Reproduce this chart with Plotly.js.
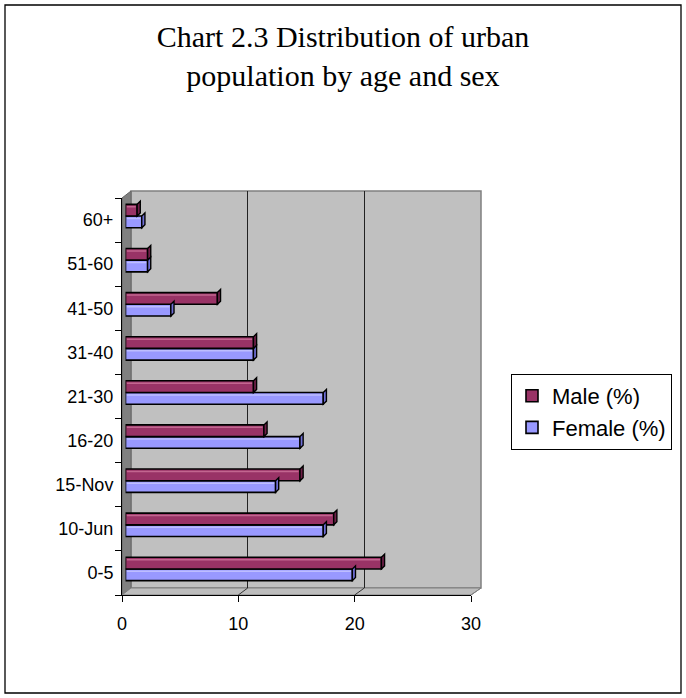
<!DOCTYPE html>
<html>
<head>
<meta charset="utf-8">
<script src="https://cdn.plot.ly/plotly-3.0.1.min.js"></script>
<style>html,body{margin:0;padding:0;background:#fff;}#chart{width:686px;height:698px;}</style>
</head>
<body>
<div id="chart"></div>
<script>
// ---- data ----
const categories = ['0-5', '10-Jun', '15-Nov', '16-20', '21-30', '31-40', '41-50', '51-60', '60+'];
const maleVals   = [22.0, 17.9, 15.0, 11.9, 11.0, 11.0, 7.9, 1.9, 1.0];
const femaleVals = [19.5, 17.0, 12.9, 15.0, 17.0, 11.0, 3.9, 1.9, 1.4];
const seriesNames = ['Male (%)', 'Female (%)'];
const xTicks = [0, 10, 20, 30];
const titleText = 'Chart 2.3 Distribution of urban<br>population by age and sex';

// ---- geometry (pixels) ----
const W = 686, H = 698;
const L = 122, R = 481, T = 191, B = 595;
const fx = px => (px - L) / (R - L);
const fy = py => (B - py) / (B - T);
const frontX1 = 471, frontTop = 198;
const backX0 = 131, backBottom = 588;
const barShiftX = 3.5, barShiftY = 4;
const xMax = xTicks[xTicks.length - 1];
const bargap = 0.47;

const maleColor = '#993366', femaleColor = '#9999FF';
const font = 'Liberation Sans, Arial, sans-serif';

const traces = [
  // back wall subplot (grid only)
  {type: 'scatter', x: [xTicks[0], xMax], y: [0, 1], xaxis: 'x', yaxis: 'y',
   mode: 'markers', marker: {opacity: 0}, hoverinfo: 'skip', showlegend: false},
  // bars
  {type: 'bar', orientation: 'h', name: seriesNames[1], y: categories, x: femaleVals,
   xaxis: 'x2', yaxis: 'y2',
   marker: {color: femaleColor, line: {color: '#000', width: 1.6}}},
  {type: 'bar', orientation: 'h', name: seriesNames[0], y: categories, x: maleVals,
   xaxis: 'x2', yaxis: 'y2',
   marker: {color: maleColor, line: {color: '#000', width: 1.6}}},
  // front axis subplot (ticks, labels)
  {type: 'scatter', y: categories, x: maleVals, xaxis: 'x3', yaxis: 'y3',
   mode: 'markers', marker: {opacity: 0}, hoverinfo: 'skip', showlegend: false}
];

const shapes = [];
// outer border
shapes.push({type: 'rect', xref: 'paper', yref: 'paper', layer: 'below',
  x0: fx(5), x1: fx(681), y0: fy(693), y1: fy(5), line: {color: '#000', width: 1.3}});
// back wall
shapes.push({type: 'rect', xref: 'paper', yref: 'paper', layer: 'below',
  x0: fx(backX0), x1: 1, y0: fy(backBottom), y1: 1,
  fillcolor: '#C0C0C0', line: {color: '#808080', width: 1.5}});
// side wall
shapes.push({type: 'path', xref: 'paper', yref: 'paper', layer: 'below',
  path: `M${fx(L)},${fy(frontTop)} L${fx(backX0)},${fy(T)} L${fx(backX0)},${fy(backBottom)} L${fx(L)},${fy(B)} Z`,
  fillcolor: '#808080', line: {color: '#666', width: 1}});
// floor
shapes.push({type: 'path', xref: 'paper', yref: 'paper', layer: 'below',
  path: `M${fx(L)},${fy(B)} L${fx(backX0)},${fy(backBottom)} L${fx(R)},${fy(backBottom)} L${fx(frontX1)},${fy(B)} Z`,
  fillcolor: '#BDBDBD', line: {color: '#808080', width: 1}});
// floor diagonals at tick values
const pxFront = v => L + (frontX1 - L) * v / xMax;
const pxBack = v => backX0 + (R - backX0) * v / xMax;
xTicks.slice(1).forEach(v => {
  shapes.push({type: 'line', xref: 'paper', yref: 'paper', layer: 'below',
    x0: fx(pxFront(v)), y0: fy(B), x1: fx(pxBack(v)), y1: fy(backBottom),
    line: {color: v === xMax ? '#808080' : '#333', width: 1}});
});
// 3D end caps and top-face highlights on bars, from the data
const w = (1 - bargap) / 2;
const dx = 0.27, dy = 0.07;
[[femaleVals, -1, '#6F6FD6', '#BDBDFF'], [maleVals, 1, '#6E2048', '#C2668F']].forEach(([vals, sgn, capCol, hiCol]) => {
  vals.forEach((v, i) => {
    const c = i + sgn * w / 2, bot = c - w / 2, top = c + w / 2;
    shapes.push({type: 'line', xref: 'x2', yref: 'y2', layer: 'above',
      x0: 0.12, x1: Math.max(v - 0.12, 0.12), y0: top - 0.055, y1: top - 0.055,
      line: {color: hiCol, width: 1.5}});
    shapes.push({type: 'path', xref: 'x2', yref: 'y2', layer: 'above',
      path: `M${v},${bot} L${v},${top} L${v + dx},${top + dy} L${v + dx},${bot + dy} Z`,
      fillcolor: capCol, line: {color: '#000', width: 1.4}});
  });
});

const layout = {
  width: W, height: H,
  margin: {l: L, r: W - R, t: T, b: H - B, pad: 0},
  paper_bgcolor: '#fff', plot_bgcolor: 'rgba(0,0,0,0)',
  font: {family: font, size: 18, color: '#000'},
  title: {text: titleText, font: {family: 'Liberation Serif, Times New Roman, serif', size: 30, color: '#000'},
          x: 0.5, xref: 'container', xanchor: 'center', y: 1 - 47 / H, yref: 'container', yanchor: 'top'},
  showlegend: true,
  legend: {x: fx(511), y: fy(374), xanchor: 'left', yanchor: 'top', traceorder: 'reversed',
           bordercolor: '#000', borderwidth: 1, bgcolor: '#fff',
           font: {family: font, size: 22, color: '#000'}, itemwidth: 30, tracegroupgap: 0},
  barmode: 'group', bargap: bargap, bargroupgap: 0,
  // back wall axes
  xaxis: {domain: [fx(backX0), 1], range: [0, xMax], anchor: 'y', tickvals: xTicks.slice(1, -1),
          showgrid: true, gridcolor: '#222', gridwidth: 1, showticklabels: false, ticks: '',
          zeroline: false, showline: false, fixedrange: true},
  yaxis: {domain: [fy(backBottom), 1], range: [0, 1], anchor: 'x', showgrid: false, zeroline: false,
          showticklabels: false, ticks: '', showline: false, fixedrange: true},
  // bar axes (hidden)
  xaxis2: {domain: [fx(L + barShiftX), fx(frontX1 + barShiftX)], range: [0, xMax], anchor: 'y2',
           visible: false, fixedrange: true},
  yaxis2: {domain: [fy(B - barShiftY), fy(frontTop - barShiftY)], anchor: 'x2', type: 'category',
           categoryorder: 'array', categoryarray: categories, range: [-0.5, categories.length - 0.5],
           visible: false, fixedrange: true},
  // front axes (ticks + labels)
  xaxis3: {domain: [0, fx(frontX1)], range: [0, xMax], anchor: 'y3', tickvals: xTicks,
           ticks: 'outside', ticklen: 6, tickcolor: '#000', tickwidth: 1,
           showline: true, linecolor: '#000', linewidth: 1, showgrid: false, zeroline: false,
           ticklabelstandoff: 6, tickfont: {family: font, size: 18, color: '#000'}, fixedrange: true},
  yaxis3: {domain: [0, fy(frontTop)], anchor: 'x3', type: 'category', categoryorder: 'array',
           categoryarray: categories, range: [-0.5, categories.length - 0.5], tickson: 'boundaries',
           ticks: 'outside', ticklen: 6, tickcolor: '#000', tickwidth: 1,
           showline: true, linecolor: '#000', linewidth: 1, showgrid: false, zeroline: false,
           ticklabelstandoff: 4, tickfont: {family: font, size: 18, color: '#000'}, fixedrange: true},
  shapes: shapes
};

Plotly.newPlot('chart', traces, layout, {displayModeBar: false, staticPlot: true});
</script>
</body>
</html>
